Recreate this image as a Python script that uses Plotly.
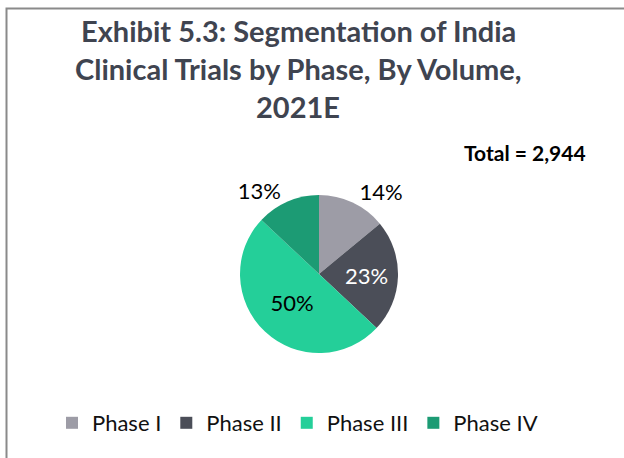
import plotly.graph_objects as go

phases = ["Phase I", "Phase II", "Phase III", "Phase IV"]
shares = [14, 23, 50, 13]
colors = ["#9D9CA6", "#4B4E58", "#24CF99", "#1C9B74"]
label_pos = ["outside", "inside", "inside", "outside"]
label_colors = ["#000000", "#FFFFFF", "#000000", "#000000"]
title_lines = ["Exhibit 5.3: Segmentation of India", "Clinical Trials by Phase, By Volume,", "2021E"]
total_text = "Total = 2,944"

W, H = 624, 458
cx, cy, r = 319, 274, 79

fig = go.Figure(go.Pie(
    labels=phases, values=shares, sort=False, direction="clockwise", rotation=0,
    marker=dict(colors=colors, line=dict(width=0)),
    textinfo="percent", texttemplate="%{percent:.0%}",
    textposition=label_pos,
    textfont=dict(family="Lato", size=22, color=label_colors),
    insidetextorientation="horizontal",
    domain=dict(x=[(cx - r) / W, (cx + r) / W], y=[(H - cy - r) / H, (H - cy + r) / H]),
    hoverinfo="label+percent",
))

annotations = []
for i, line in enumerate(title_lines):
    annotations.append(dict(
        text="<b>" + line + "</b>", x=298 / W, y=1 - (30 + i * 38) / H,
        xref="paper", yref="paper", xanchor="center", yanchor="middle",
        showarrow=False, font=dict(family="Lato", size=29, color="#3F4450")))
annotations.append(dict(
    text="<b>" + total_text + "</b>", x=525 / W, y=1 - 152 / H,
    xref="paper", yref="paper", xanchor="center", yanchor="middle",
    showarrow=False, font=dict(family="Lato", size=21, color="#000000")))

fig.update_layout(
    width=W, height=H,
    margin=dict(l=0, r=0, t=0, b=0),
    paper_bgcolor="white", plot_bgcolor="white",
    annotations=annotations,
    showlegend=True,
    legend=dict(orientation="h", x=52 / W, y=1 - 423 / H,
                xanchor="left", yanchor="middle",
                font=dict(family="Lato", size=22, color="#111111"),
                itemsizing="constant", traceorder="normal"),
    shapes=[dict(type="rect", xref="paper", yref="paper",
                 x0=6.5 / W, x1=1.05, y0=-0.05, y1=1 - 8.5 / H,
                 line=dict(color="#8A8A8A", width=2), fillcolor="rgba(0,0,0,0)")],
)

fig.write_html("out.html", config={"displayModeBar": False},
               post_script="document.body.style.margin='0';")
